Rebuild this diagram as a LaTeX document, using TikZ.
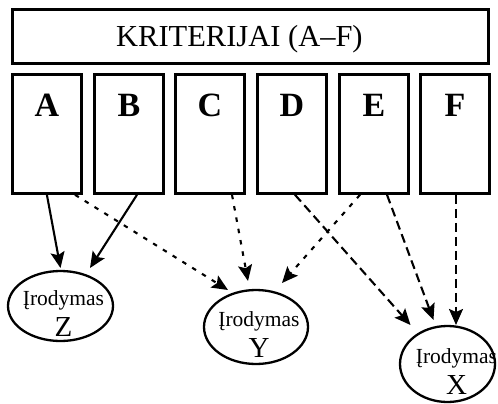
\documentclass[tikz,border=0pt]{standalone}
\usepackage{fontspec}
\setmainfont{Liberation Serif}
\usetikzlibrary{arrows.meta,shapes.geometric}
\newcommand\evidtext[2]{\makebox[0pt]{\hspace*{#2}\raisebox{1pt}[0pt][0pt]{\fontsize{21.5}{21.5}\selectfont Įrodymas}}\makebox[0pt]{\hspace*{#2}\raisebox{-30pt}[0pt][0pt]{\fontsize{29}{29}\selectfont #1}}}
\tikzset{
  titlebox/.style={draw, line width=2.8pt, anchor=north west, inner sep=0pt,
    minimum width=476pt, text height=37pt, text depth=17pt,
    font=\fontsize{30.5}{30.5}\selectfont},
  critbox/.style={draw, line width=2.8pt, anchor=north west, inner sep=0pt,
    minimum width=69pt, text height=42pt, text depth=77pt,
    font=\bfseries\fontsize{34}{34}\selectfont},
  evid/.style={draw, ellipse, line width=2.3pt, inner sep=0pt},
  arr/.style={line width=2.1pt, -{Stealth[length=16pt,width=14pt,inset=3pt]}},
  solidarr/.style={arr},
  dotarr/.style={arr, dash pattern=on 4.5pt off 7pt},
  dasharr/.style={arr, dash pattern=on 9pt off 5pt}
}
\begin{document}
\begin{tikzpicture}[x=1pt,y=-1pt]
\useasboundingbox (0,0) rectangle (498,404);
\node[titlebox] (T) at (11,8) {KRITERIJAI (A–F)\hspace*{22pt}};
\node[critbox] (A) at (11,73) {A};
\node[critbox] (B) at (93,73) {B};
\node[critbox] (C) at (174,73) {C};
\node[critbox] (D) at (256,73) {D};
\node[critbox] (E) at (338,73) {E};
\node[critbox] (F) at (419,73) {F};
\node[evid, minimum width=105pt, minimum height=70pt] (Z) at (60.5,306) {\evidtext{Z}{6pt}};
\node[evid, minimum width=104pt, minimum height=74pt] (Y) at (256,327) {\evidtext{Y}{6pt}};
\node[evid, minimum width=95pt, minimum height=76pt] (X) at (447.5,364) {\evidtext{X}{18pt}};
% solid
\draw[solidarr] (A.south) -- ([shift={(0,-38)}]Z.center);
\draw[solidarr] ([xshift=44pt]B.south west) -- ([shift={(29.5,-38)}]Z.center);
% dotted
\draw[dotarr] ([xshift=64pt]A.south west) -- ([shift={(-28,-37)}]Y.center);
\draw[dotarr] ([xshift=58pt]C.south west) -- ([shift={(-8,-46)}]Y.center);
\draw[dotarr] ([xshift=22pt]E.south west) -- ([shift={(26,-44)}]Y.center);
% dashed
\draw[dasharr] ([xshift=39pt]D.south west) -- ([shift={(-37,-39)}]X.center);
\draw[dasharr] ([xshift=49pt]E.south west) -- ([shift={(-14,-44)}]X.center);
\draw[dasharr] ([xshift=37pt]F.south west) -- ([shift={(8.5,-39)}]X.center);
\end{tikzpicture}
\end{document}
